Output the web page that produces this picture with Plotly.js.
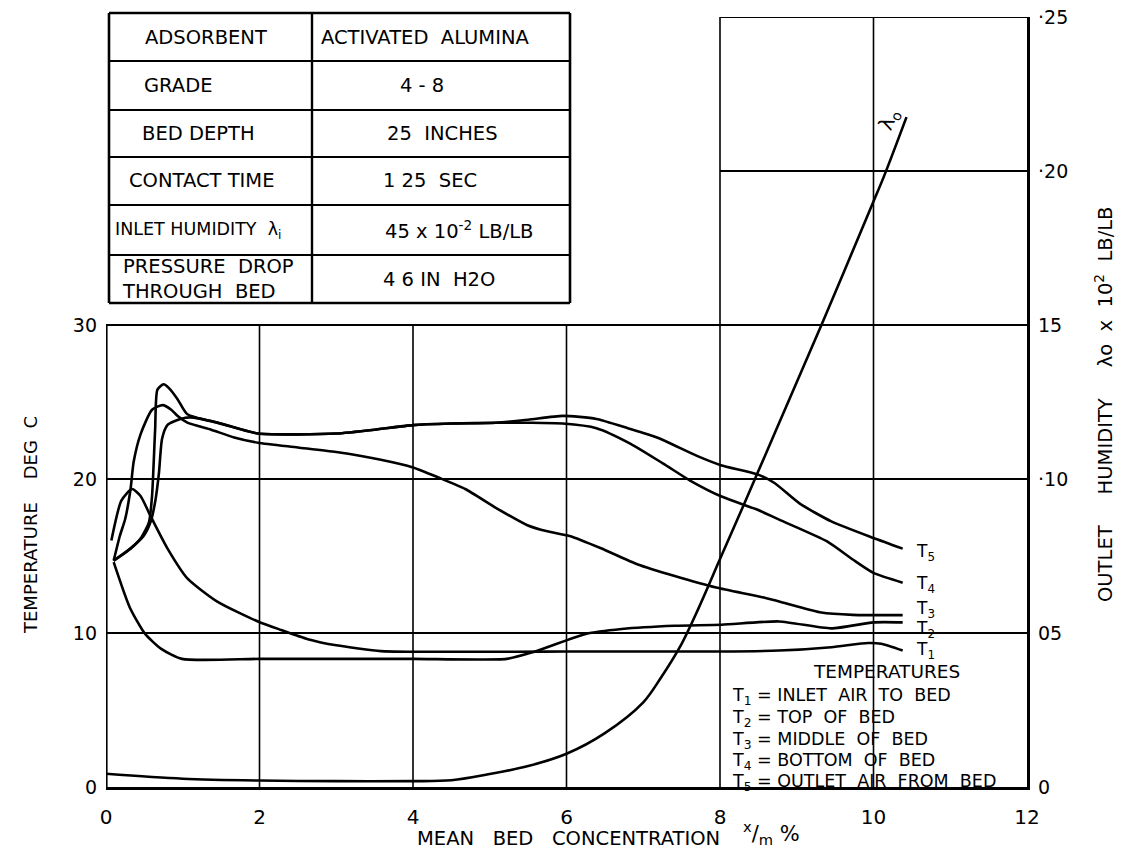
<!DOCTYPE html>
<html><head><meta charset="utf-8">
<script src="https://cdn.plot.ly/plotly-3.0.1.min.js"></script>
<style>html,body{margin:0;padding:0;background:#fff;} #chart{width:1129px;height:854px;}</style>
</head><body><div id="chart"></div>
<script>
// ---------------- data ----------------
// Outlet humidity lambda_o (right axis, lb/lb)
const lamX = [0, 1, 2, 3, 4, 4.5, 5, 5.5, 6, 6.5, 7, 7.23, 7.5, 7.72, 8.0, 8.29, 8.49, 8.88, 9.33, 9.61, 9.99, 10.14, 10.43];
const lamY = [0.0043, 0.0027, 0.0021, 0.0019, 0.0019, 0.0022, 0.0042, 0.0068, 0.0108, 0.0175, 0.0275, 0.0355, 0.0465, 0.058, 0.074, 0.0905, 0.102, 0.1245, 0.1505, 0.167, 0.1895, 0.1985, 0.2175];

// Temperatures (left axis, deg C)
const t1X = [0.07, 0.2, 0.34, 0.45, 0.58, 0.8, 1.06, 1.45, 1.98, 2.28, 2.63, 3.0, 3.58, 4.0, 4.68, 5.36, 6.0, 7.0, 8.0, 8.77, 9.45, 9.93, 10.1, 10.38];
const t1Y = [16.0, 18.6, 19.35, 18.9, 17.6, 15.5, 13.55, 12.04, 10.75, 10.2, 9.6, 9.2, 8.82, 8.78, 8.78, 8.78, 8.8, 8.8, 8.8, 8.86, 9.08, 9.35, 9.3, 8.86];

const t2X = [0.1, 0.31, 0.51, 0.72, 0.99, 2, 3, 4, 5.22, 5.56, 6.25, 6.72, 7.41, 8.02, 8.77, 9.45, 10.0, 10.38];
const t2Y = [14.6, 11.66, 9.94, 8.97, 8.32, 8.32, 8.32, 8.32, 8.32, 8.75, 9.94, 10.26, 10.47, 10.54, 10.75, 10.3, 10.69, 10.69];

const t3X = [0.1, 0.18, 0.25, 0.32, 0.36, 0.45, 0.6, 0.74, 0.85, 0.93, 1.06, 1.37, 1.67, 1.98, 2.5, 3.0, 3.58, 4.0, 4.33, 4.68, 5.09, 5.49, 5.75, 6.04, 6.45, 6.93, 7.41, 7.95, 8.57, 8.9, 9.32, 9.73, 10.38];
const t3Y = [14.7, 16.3, 17.4, 19.35, 21.1, 22.9, 24.5, 24.8, 24.5, 24.1, 23.66, 23.2, 22.7, 22.36, 22.05, 21.75, 21.25, 20.75, 20.1, 19.35, 18.1, 17.0, 16.6, 16.3, 15.5, 14.45, 13.7, 12.95, 12.3, 11.87, 11.33, 11.18, 11.16];

const t4X = [0.1, 0.32, 0.49, 0.58, 0.64, 0.69, 0.73, 0.8, 0.97, 1.1, 1.45, 1.98, 2.5, 3.0, 3.5, 4.0, 4.5, 5.08, 5.5, 5.95, 6.39, 6.83, 7.26, 7.61, 8.02, 8.49, 8.8, 9.39, 9.73, 10.0, 10.38];
const t4Y = [14.7, 15.5, 16.3, 17.2, 18.5, 20.4, 22.6, 23.5, 23.9, 24.0, 23.66, 22.95, 22.9, 22.95, 23.2, 23.5, 23.6, 23.65, 23.65, 23.6, 23.3, 22.3, 21.0, 19.9, 18.86, 18.0, 17.3, 15.96, 14.77, 13.9, 13.27];

const t5X = [0.1, 0.27, 0.45, 0.56, 0.6, 0.64, 0.67, 0.75, 0.82, 0.93, 1.06, 1.45, 1.98, 2.5, 3.0, 3.5, 4.0, 4.5, 5.08, 5.5, 5.95, 6.39, 6.8, 7.18, 7.7, 8.01, 8.49, 8.71, 9.04, 9.45, 10.0, 10.38];
const t5Y = [14.7, 15.27, 16.13, 17.2, 18.9, 23.2, 25.8, 26.15, 25.9, 25.2, 24.2, 23.66, 22.95, 22.9, 22.95, 23.2, 23.5, 23.6, 23.65, 23.85, 24.1, 23.9, 23.3, 22.7, 21.5, 20.9, 20.3, 19.74, 18.4, 17.25, 16.17, 15.48];

// axis ticks
const xTicks = [0, 2, 4, 6, 8, 10, 12];
const xTickText = ['0', '2', '4', '6', '8', '10', '12'];
const tTicks = [0, 10, 20, 30];
const tTickText = ['0', '10', '20', '30'];
const hTicks = [0, 0.05, 0.10, 0.15, 0.20, 0.25];
const hTickText = ['0', '05', '·10', '15', '·20', '·25'];

// table
const tableLeft = ['ADSORBENT', 'GRADE', 'BED DEPTH', 'CONTACT TIME', 'INLET HUMIDITY  λ<sub>i</sub>', 'PRESSURE  DROP<br>THROUGH  BED'];
const tableRight = ['ACTIVATED  ALUMINA', '4 - 8', '25  INCHES', '1 25  SEC', '45 x 10<sup>-2</sup> LB/LB', '4 6 IN  H2O'];

// legend
const legendTitle = 'TEMPERATURES';
const legendLines = ['T<sub>1</sub> = INLET  AIR  TO  BED', 'T<sub>2</sub> = TOP  OF  BED', 'T<sub>3</sub> = MIDDLE  OF  BED', 'T<sub>4</sub> = BOTTOM  OF  BED', 'T<sub>5</sub> = OUTLET  AIR  FROM  BED'];
const curveLabels = ['T<sub>5</sub>', 'T<sub>4</sub>', 'T<sub>3</sub>', 'T<sub>2</sub>', 'T<sub>1</sub>'];

// ---------------- layout helpers ----------------
const L = 106, R = 1027, T = 17, B = 787;
const PX = p => (p - L) / (R - L);
const PY = p => (B - p) / (B - T);
const FONT = 'DejaVu Sans, Liberation Sans, sans-serif';
const K = '#000';

const lineStyle = {color: K, width: 2.6, shape: 'spline', smoothing: 0.6};
const traces = [
  {x: lamX, y: lamY, yaxis: 'y2', mode: 'lines', line: {color: K, width: 2.6, shape: 'spline', smoothing: 0.9}},
  {x: t1X, y: t1Y, mode: 'lines', line: lineStyle},
  {x: t2X, y: t2Y, mode: 'lines', line: lineStyle},
  {x: t3X, y: t3Y, mode: 'lines', line: lineStyle},
  {x: t4X, y: t4Y, mode: 'lines', line: lineStyle},
  {x: t5X, y: t5Y, mode: 'lines', line: lineStyle},
];

const shapes = [];
function ln(x0, y0, x1, y1, w, ref) {
  shapes.push({type: 'line', xref: ref ? 'paper' : 'x', yref: ref ? 'paper' : 'y', x0, y0, x1, y1, line: {color: K, width: w}, layer: 'below'});
}
// lower grid box (temperature 0..30)
[2, 4, 6].forEach(v => ln(v, 0, v, 30, 1.6));
[8, 10].forEach(v => ln(v, 0, v, 50, 1.6));
[10, 20].forEach(v => ln(0, v, 12, v, 2));
ln(0, 30, 12, 30, 2.2);
ln(0, 0, 0, 30, 3.2);
// upper box (humidity 0.15..0.25)
ln(8, 40, 12, 40, 2);
ln(8, 50, 12, 50, 2.2);

// table frame (pixel positions)
const colX = [109, 312, 570];
const rowY = [13, 61, 110, 157, 205, 255, 303];
rowY.forEach((y, i) => ln(PX(colX[0]), PY(y), PX(colX[2]), PY(y), (i === 0 || i === rowY.length - 1) ? 2.6 : 2, true));
colX.forEach((x, i) => ln(PX(x), PY(rowY[0]), PX(x), PY(rowY[6]), i === 1 ? 2.4 : 2.6, true));

const ann = [];
function txt(text, x, y, size, anchor, extra) {
  ann.push(Object.assign({text, xref: 'paper', yref: 'paper', x: PX(x), y: PY(y), showarrow: false,
    xanchor: anchor || 'left', yanchor: 'middle', font: {family: FONT, size: size, color: K}}, extra || {}));
}
// table text
const leftPos = [[206, 'center'], [142, 'left'], [140, 'left'], [201, 'center'], [113, 'left'], [120, 'left']];
const rightPos = [[319, 'left'], [398, 'left'], [385, 'left'], [381, 'left'], [383, 'left'], [381, 'left']];
tableLeft.forEach((t, i) => {
  const cy = (rowY[i] + rowY[i + 1]) / 2;
  txt(t, leftPos[i][0], cy, i === 4 ? 17.5 : 19.5, leftPos[i][1], i === 5 ? {align: 'left'} : null);
});
tableRight.forEach((t, i) => {
  const cy = (rowY[i] + rowY[i + 1]) / 2;
  txt(t, rightPos[i][0], cy, 19.5, rightPos[i][1]);
});
// legend
txt(legendTitle, 886, 671, 18.5, 'center');
const legY = [696, 718, 740, 761, 782];
legendLines.forEach((t, i) => txt(t, 730, legY[i], 17.5, 'left'));
// curve labels
const clY = [552, 584, 609, 629, 650];
curveLabels.forEach((t, i) => txt(t, 914, clY[i], 17, 'left'));
// lambda label
txt('λ<sub>o</sub>', 889, 120, 20, 'center', {textangle: -68});
// axis titles
txt('TEMPERATURE    DEG  C', 30, 525, 18, 'center', {textangle: -90});
txt('OUTLET     HUMIDITY     λo  x  10<sup>2</sup>  LB/LB', 1104, 405, 19.5, 'center', {textangle: -90});
txt('MEAN   BED   CONCENTRATION', 568, 838, 19.5, 'center');
txt('<sup>x</sup>/<sub>m</sub> %', 771, 833, 21, 'center');

const layout = {
  width: 1129, height: 854,
  margin: {l: L, r: 1129 - R, t: T, b: 854 - B, pad: 0},
  paper_bgcolor: '#fff', plot_bgcolor: '#fff',
  showlegend: false,
  font: {family: FONT, size: 17, color: K},
  xaxis: {range: [0, 12], tickvals: xTicks, ticktext: xTickText, showgrid: false, zeroline: false,
          showline: true, linewidth: 3.2, linecolor: K, ticks: '', ticklabelstandoff: 10,
          tickfont: {family: FONT, size: 20, color: K}},
  yaxis: {range: [0, 50], tickvals: tTicks, ticktext: tTickText, showgrid: false, zeroline: false,
          showline: false, ticks: '', ticklabelstandoff: 8, tickfont: {family: FONT, size: 19, color: K}},
  yaxis2: {range: [0, 0.25], overlaying: 'y', side: 'right', tickvals: hTicks, ticktext: hTickText,
           showgrid: false, zeroline: false, showline: true, linewidth: 3.2, linecolor: K, ticks: '',
           ticklabelstandoff: 4, tickfont: {family: FONT, size: 19, color: K}},
  shapes: shapes,
  annotations: ann
};
Plotly.newPlot('chart', traces, layout, {staticPlot: true, displayModeBar: false});
</script></body></html>
